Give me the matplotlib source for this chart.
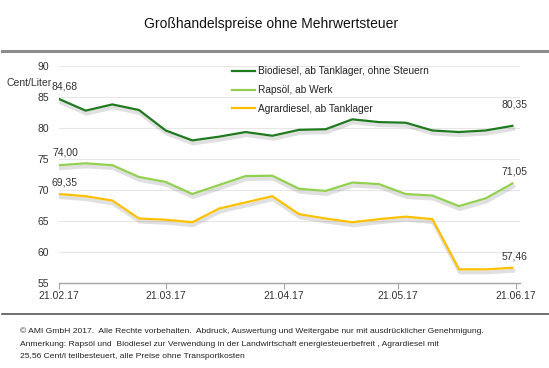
import matplotlib
matplotlib.use("Agg")
import matplotlib.pyplot as plt
import matplotlib.dates as mdates
import matplotlib.patheffects as pe
from matplotlib.lines import Line2D
import datetime as dt

plt.rcParams['font.family'] = ['Liberation Sans', 'DejaVu Sans']

dates = [dt.date(2017, 2, 21) + dt.timedelta(days=7 * i) for i in range(18)]
biodiesel = [84.68, 82.8, 83.8, 82.9, 79.6, 78.0, 78.6, 79.35, 78.75, 79.7, 79.8, 81.4,
             80.95, 80.85, 79.6, 79.35, 79.6, 80.35]
rapsoel = [74.00, 74.3, 74.0, 72.1, 71.3, 69.35, 70.8, 72.25, 72.3, 70.2, 69.85, 71.2,
           70.95, 69.35, 69.1, 67.4, 68.65, 71.05]
agrar = [69.35, 69.0, 68.3, 65.4, 65.2, 64.8, 67.0, 68.0, 69.0, 66.1, 65.4, 64.8,
         65.3, 65.7, 65.3, 57.2, 57.2, 57.46]
labels = ["Biodiesel, ab Tanklager, ohne Steuern", "Rapsöl, ab Werk", "Agrardiesel, ab Tanklager"]
colors = ["#1f7a1f", "#92d050", "#ffc000"]
tick_dates = [dt.date(2017, m, 21) for m in range(2, 7)]
tick_labels = ["21.02.17", "21.03.17", "21.04.17", "21.05.17", "21.06.17"]
yticks = [55, 60, 65, 70, 75, 80, 85, 90]

W, H = 549, 368
fig = plt.figure(figsize=(W / 100, H / 100), dpi=100)
ax = fig.add_axes([59 / W, 1 - 283 / H, (520 - 59) / W, (283 - 66) / H])

shadow = [pe.SimpleLineShadow(offset=(0.6, -2.2), shadow_color='0.6', alpha=0.3, linewidth=2.8),
          pe.Normal()]
series = [biodiesel, rapsoel, agrar]
handles = []
for vals, lab, c in zip(series, labels, colors):
    ax.plot(dates, vals, color=c, lw=1.6, path_effects=shadow, solid_joinstyle='round')
    handles.append(Line2D([], [], color=c, lw=1.6, label=lab))

ax.set_ylim(55, 90)
ax.set_xlim(dt.date(2017, 2, 21), dt.date(2017, 6, 22))
ax.set_yticks(yticks)
ax.set_yticklabels([str(v) for v in yticks])
ax.set_xticks(tick_dates)
ax.set_xticklabels(tick_labels)
ax.grid(axis='y', color='#e6e6e6', lw=0.8)
ax.set_axisbelow(True)
for s in ['top', 'right', 'left']:
    ax.spines[s].set_visible(False)
ax.spines['bottom'].set_color('#a6a6a6')
ax.spines['bottom'].set_linewidth(1.0)
ax.tick_params(axis='y', length=0, pad=7, labelsize=7.5, labelcolor='#333333')
ax.tick_params(axis='x', length=4, width=0.8, color='#a6a6a6', pad=2, labelsize=7.5, labelcolor='#333333')

# value labels
ann = [(0, biodiesel, "84,68", 6, 12), (0, rapsoel, "74,00", 6, 13), (0, agrar, "69,35", 6, 12),
       (-1, biodiesel, "80,35", 2, 21), (-1, rapsoel, "71,05", 2, 12), (-1, agrar, "57,46", 2, 11)]
for idx, vals, txt, dx, dy in ann:
    ax.annotate(txt, (mdates.date2num(dates[idx]), vals[idx]), xytext=(dx, dy), textcoords='offset pixels',
                ha='center', va='center', fontsize=7.5, color='#333333')

leg = ax.legend(handles=handles, loc='upper left', bbox_to_anchor=(0.375, 0.998), frameon=False, fontsize=7.3,
                handlelength=2.3, handletextpad=0.3, labelspacing=0.85, borderpad=0, borderaxespad=0)
for t in leg.get_texts():
    t.set_color('#222222')

fig.text(52 / W, 1 - 83 / H, "Cent/Liter", ha='right', va='center', fontsize=7.5, color='#333333')
fig.text(271 / W, 1 - 24 / H, "Großhandelspreise ohne Mehrwertsteuer", ha='center', va='center',
         fontsize=10, color='#111111')

fig.add_artist(plt.Line2D([2 / W, 547 / W], [1 - 51 / H, 1 - 51 / H], color='#8c8c8c', lw=2.2))
fig.add_artist(plt.Line2D([2 / W, 549 / W], [1 - 314 / H, 1 - 314 / H], color='#555555', lw=1.2))

foot = ["© AMI GmbH 2017.  Alle Rechte vorbehalten.  Abdruck, Auswertung und Weitergabe nur mit ausdrücklicher Genehmigung.",
        "Anmerkung: Rapsöl und  Biodiesel zur Verwendung in der Landwirtschaft energiesteuerbefreit , Agrardiesel mit",
        "25,56 Cent/l teilbesteuert, alle Preise ohne Transportkosten"]
for i, line in enumerate(foot):
    fig.text(20 / W, 1 - (331 + 13 * i) / H, line, ha='left', va='center', fontsize=6.1, color='#222222')

fig.savefig("out.png", dpi=100)
